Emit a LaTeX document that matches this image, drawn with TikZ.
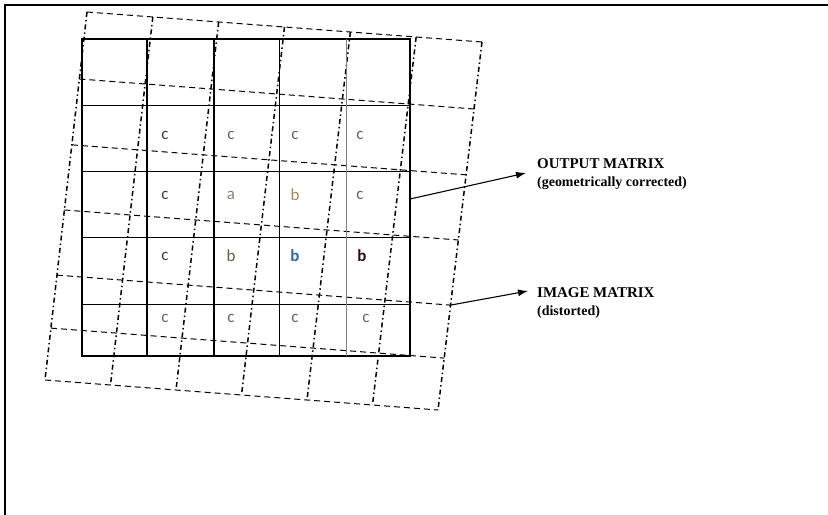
\documentclass[tikz,border=0pt]{standalone}
\usepackage{fontspec}
\setmainfont{Liberation Serif}
\newfontfamily\cellfont{Carlito}
\usepackage{tikz}
\usetikzlibrary{calc,arrows.meta}
\definecolor{CellGrey}{RGB}{100,100,100}
\definecolor{CellLight}{RGB}{135,130,120}
\definecolor{CellSlate}{RGB}{50,62,80}
\definecolor{CellSand}{RGB}{170,135,80}
\definecolor{CellOlive}{RGB}{105,92,60}
\definecolor{CellBlue}{RGB}{40,105,175}
\definecolor{CellMaroon}{RGB}{45,15,20}

\begin{document}
\begin{tikzpicture}[x=1bp,y=-1bp,
  rowline/.style={dash pattern=on 6bp off 4bp,line width=1bp},
  colline/.style={dash pattern=on 5bp off 3bp on 1.5bp off 3bp,line width=1.5bp},
  cell/.style={font=\cellfont\fontsize{17}{17}\selectfont,inner sep=0pt},
  lbl/.style={font=\bfseries\fontsize{15}{15}\selectfont,inner sep=0pt,anchor=base west},
  sublbl/.style={lbl,font=\bfseries\fontsize{14}{14}\selectfont},
  pointer/.style={line width=1.1bp,-{Latex[length=10bp,width=7bp]}}]

  \useasboundingbox (0,0) rectangle (828,515);
  % page frame, open on the right and at the bottom
  \draw[line width=2.5bp] (5,515) -- (5,5) -- (828,5);

  % image matrix (distorted), a tilted 6x6 grid
  \coordinate (dTL) at (87,12);
  \coordinate (dTR) at (482,42);
  \coordinate (dBL) at (45,380);
  \coordinate (dBR) at (438,410);
  \foreach \f in {0,0.182,0.361,0.538,0.715,0.859,1}
    \draw[rowline] ($(dTL)!\f!(dBL)$) -- ($(dTR)!\f!(dBR)$);
  \foreach \i [evaluate=\i as \g using \i/6] in {0,...,6}
    \draw[colline] ($(dTL)!\g!(dTR)$) -- ($(dBL)!\g!(dBR)$);

  % output matrix (geometrically corrected)
  \draw[line width=1.4bp] (82,39) rectangle (410,356);
  \foreach \y in {106,172,238,304}
    \draw[line width=1bp] (82,\y) -- (410,\y);
  \foreach \x/\w in {147/1.4bp,214/1.4bp,279/0.9bp}
    \draw[line width=\w] (\x,39) -- (\x,356);
  \draw[line width=0.9bp,gray] (346,39) -- (346,356);

  % pixel values
  \foreach \n/\x/\y/\t/\c in {
      r2c2/165/135/c/CellSlate, r2c3/231/135/c/CellGrey,
      r2c4/295/135/c/CellGrey, r2c5/360/135/c/CellGrey,
      r3c2/165/195/c/CellSlate, r3c3/231/195/a/CellLight,
      r3c4/295/195/b/CellSand, r3c5/360/195/c/CellGrey,
      r4c2/165/256/c/CellSlate, r4c3/231/256/b/CellOlive,
      r4c4/295/256/\textbf{b}/CellBlue, r4c5/362/256/\textbf{b}/CellMaroon,
      r5c2/165/318/c/CellGrey, r5c3/231/318/c/CellGrey,
      r5c4/295/318/c/CellGrey, r5c5/366/318/c/CellGrey}
    \node[cell,text=\c] (\n) at (\x,\y) {\t};

  % labels
  \node[lbl] (outttl) at (537,169) {OUTPUT MATRIX};
  \node[sublbl] (outsub) at (537,187) {(geometrically corrected)};
  \node[lbl] (imgttl) at (537,298) {IMAGE MATRIX};
  \node[sublbl] (imgsub) at (537,316) {(distorted)};

  \coordinate (outsrc) at (410,199);
  \coordinate (imgsrc) at ($(dTR)!0.715!(dBR)$);
  \draw[pointer] (outsrc) -- ([shift={(-11bp,-4bp)}]outttl.base west);
  \draw[pointer] (imgsrc) -- ([shift={(-9bp,7bp)}]imgttl.base west);
\end{tikzpicture}
\end{document}
